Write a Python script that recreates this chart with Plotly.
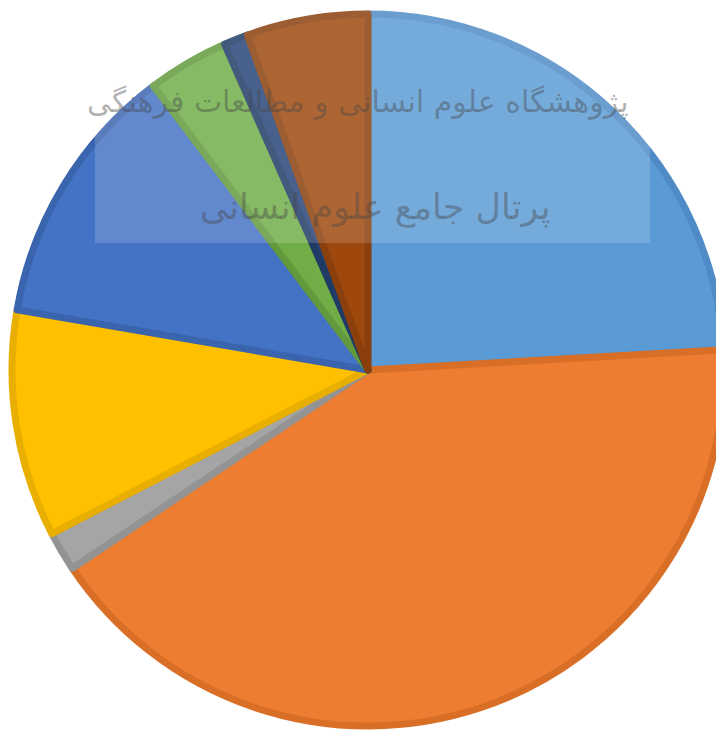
import plotly.graph_objects as go

categories = ["A", "B", "C", "D", "E", "F", "G", "H"]
values = [24.1, 41.5, 1.8, 10.3, 12.0, 3.7, 1.1, 5.5]
fill_colors = ["#5B9BD5", "#ED7D31", "#A5A5A5", "#FFC000", "#4472C4", "#70AD47", "#264478", "#9E480E"]
edge_colors = ["#4F8BC6", "#D96F26", "#939393", "#E8AE00", "#3B64AE", "#62993D", "#203A66", "#8A3F0C"]
watermark_line1 = "پژوهشگاه علوم انسانی و مطالعات فرهنگی"
watermark_line2 = "پرتال جامع علوم انسانی"

W, H = 724, 731
off = 8  # page body margin
cx, cy, r = 368 - off, 370 - off, 356

fig = go.Figure(go.Pie(
    labels=categories,
    values=values,
    sort=False,
    direction="clockwise",
    rotation=0,
    textinfo="none",
    hoverinfo="label+percent",
    marker=dict(colors=fill_colors, line=dict(color=edge_colors, width=7)),
    domain=dict(x=[(cx - r) / W, min(1.0, (cx + r) / W)],
                y=[(H - cy - r) / H, (H - cy + r) / H]),
    showlegend=False,
))

fig.add_shape(type="rect", xref="paper", yref="paper",
              x0=(95 - off) / W, x1=(650 - off) / W, y0=1 - (243 - off) / H, y1=1.0,
              fillcolor="rgba(255,255,255,0.16)", line=dict(width=0), layer="above")

fig.add_annotation(text=watermark_line1, xref="paper", yref="paper",
                   x=(358 - off) / W, y=1 - (82 - off) / H, showarrow=False,
                   font=dict(family="DejaVu Sans", size=30, color="rgba(70,70,70,0.42)"))
fig.add_annotation(text=watermark_line2, xref="paper", yref="paper",
                   x=(375 - off) / W, y=1 - (185 - off) / H, showarrow=False,
                   font=dict(family="DejaVu Sans", size=35, color="rgba(70,70,70,0.42)"))

fig.update_layout(width=W, height=H, margin=dict(l=0, r=0, t=0, b=0),
                  paper_bgcolor="white", plot_bgcolor="white")

fig.write_html("out.html")
